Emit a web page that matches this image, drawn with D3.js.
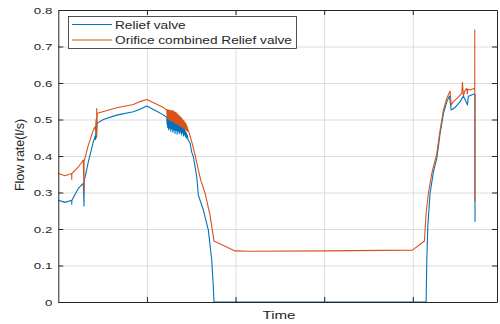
<!DOCTYPE html>
<html>
<head>
<meta charset="utf-8">
<script src="https://cdn.jsdelivr.net/npm/d3@7"></script>
<style>
  body { margin: 0; background: #fff; }
  text { font-family: "Liberation Sans", Arial, sans-serif; fill: #262626; }
</style>
</head>
<body>
<svg id="chart" width="500" height="324"></svg>
<script>
// values; time is in arbitrary units (grid line every 100)
var yTicks = [0, 0.1, 0.2, 0.3, 0.4, 0.5, 0.6, 0.7, 0.8];
var xTicks = [100, 200, 300, 400];
var seriesNames = ["Relief valve", "Orifice combined Relief valve"];

// rise to the first plateau
var reliefHeadTime = [0, 7.6, 15.1, 15.2, 15.3, 22.6, 28.2, 29, 29.1, 33.9, 39.5, 41.4, 42, 42.6, 43.2, 43.6, 44, 50.8, 65.9, 84.7, 92.2, 99.8, 110, 119];
var reliefHeadFlow = [0.279, 0.273, 0.279, 0.268, 0.279, 0.311, 0.325, 0.263, 0.33, 0.384, 0.439, 0.453, 0.445, 0.48, 0.455, 0.478, 0.49, 0.5, 0.512, 0.521, 0.528, 0.537, 0.524, 0.512];
var orificeHeadTime = [0, 7.6, 15.1, 15.2, 15.3, 22.6, 28.2, 29, 29.1, 33.9, 39.5, 41.4, 42, 42.6, 43.2, 43.3, 43.6, 44, 47.1, 65.9, 84.7, 92.2, 99.8, 110, 119];
var orificeHeadFlow = [0.352, 0.346, 0.352, 0.336, 0.352, 0.37, 0.389, 0.30, 0.385, 0.43, 0.471, 0.48, 0.47, 0.50, 0.45, 0.53, 0.49, 0.517, 0.519, 0.532, 0.541, 0.549, 0.555, 0.543, 0.532];

// noisy stretch after the peak
var noiseTime = [122.4, 122.7, 123, 123.3, 123.6, 123.9, 124.2, 124.5, 124.8, 125.1,
  125.4, 125.7, 126, 126.3, 126.6, 126.9, 127.2, 127.5, 127.8, 128.1,
  128.4, 128.7, 129, 129.3, 129.6, 129.9, 130.2, 130.5, 130.8, 131.1,
  131.4, 131.7, 132, 132.3, 132.6, 132.9, 133.2, 133.5, 133.8, 134.1,
  134.4, 134.7, 135, 135.3, 135.6, 135.9, 136.2, 136.5, 136.8, 137.1,
  137.4, 137.7, 138, 138.3, 138.6, 138.9, 139.2, 139.5, 139.8, 140.1,
  140.4, 140.7, 141, 141.3, 141.6, 141.9, 142.2, 142.5, 142.8, 143.1,
  143.4, 143.7, 144, 144.3, 144.6, 144.9, 145.2, 145.5, 145.8, 146.1, 146.4];
var reliefNoise = [0.506, 0.488, 0.503, 0.479, 0.501, 0.490, 0.504, 0.472, 0.499, 0.485,
  0.502, 0.476, 0.498, 0.487, 0.500, 0.468, 0.497, 0.482, 0.499, 0.474,
  0.496, 0.485, 0.498, 0.465, 0.495, 0.479, 0.497, 0.471, 0.493, 0.483,
  0.495, 0.462, 0.492, 0.478, 0.494, 0.470, 0.490, 0.480, 0.492, 0.460,
  0.489, 0.475, 0.491, 0.468, 0.487, 0.477, 0.489, 0.462, 0.485, 0.472,
  0.487, 0.466, 0.483, 0.473, 0.485, 0.458, 0.480, 0.469, 0.482, 0.463,
  0.477, 0.467, 0.479, 0.455, 0.474, 0.464, 0.475, 0.458, 0.470, 0.460,
  0.468, 0.452, 0.465, 0.456, 0.462, 0.449, 0.459, 0.452, 0.455, 0.447, 0.445];
var orificeNoise = [0.526, 0.510, 0.523, 0.503, 0.527, 0.508, 0.521, 0.500, 0.525, 0.506,
  0.519, 0.498, 0.526, 0.504, 0.522, 0.497, 0.524, 0.507, 0.518, 0.495,
  0.525, 0.502, 0.520, 0.493, 0.523, 0.500, 0.517, 0.496, 0.522, 0.491,
  0.519, 0.499, 0.515, 0.489, 0.520, 0.496, 0.513, 0.492, 0.517, 0.487,
  0.514, 0.494, 0.510, 0.486, 0.512, 0.490, 0.507, 0.484, 0.510, 0.488,
  0.505, 0.482, 0.507, 0.485, 0.502, 0.480, 0.504, 0.483, 0.499, 0.478,
  0.500, 0.480, 0.496, 0.476, 0.497, 0.478, 0.492, 0.474, 0.493, 0.475,
  0.488, 0.472, 0.489, 0.471, 0.484, 0.470, 0.482, 0.469, 0.478, 0.468, 0.470];

// fall, idle stretch and second rise
var reliefTailTime = [148.7, 150.6, 152.4, 156.2, 158, 163.7, 169.3, 173.1, 174.9, 175.7, 415, 415.8, 416.9, 419.5, 423.3, 427.1, 430.8, 434.6, 438.4, 441.3,
  443.3, 447.8, 453.4, 457.1, 459, 461.6, 462.7, 469.1, 470.2, 470.2];
var reliefTailFlow = [0.435, 0.41, 0.398, 0.343, 0.293, 0.252, 0.197, 0.115, 0.042, 0, 0, 0.115, 0.206, 0.298, 0.357, 0.394, 0.462, 0.517, 0.549, 0.564,
  0.526, 0.533, 0.549, 0.564, 0.555, 0.54, 0.564, 0.570, 0.570, 0.22];
var orificeTailTime = [146.7, 150.6, 154.3, 158, 160.7, 165.6, 171.2, 175.7, 199.4, 216.4, 300, 399.6, 413.1, 415, 417.6, 421.4, 423.3, 425.2, 427.1,
  430.8, 434.6, 438.4, 442.1, 443.3, 445.9, 451.5, 455.3, 456, 457.1, 459, 461, 461.5, 462, 464.6, 469.1, 469.9, 469.9, 470];
var orificeTailFlow = [0.471, 0.439, 0.403, 0.362, 0.334, 0.298, 0.238, 0.167, 0.14, 0.139, 0.140, 0.142, 0.167, 0.243, 0.298, 0.352, 0.371, 0.389, 0.407,
  0.471, 0.526, 0.558, 0.578, 0.54, 0.549, 0.562, 0.572, 0.602, 0.565, 0.58, 0.585, 0.57, 0.583, 0.581, 0.585, 0.585, 0.745, 0.275];

var colors = ["#0072BD", "#D95319"];
var ink = "#262626";

// plot box (note: "top" is taken by window.top, so use other names)
var x0 = 58.3, x1 = 497, y0 = 10, y1 = 302;

var svg = d3.select("#chart");

var x = d3.scaleLinear().domain([0, 495]).range([x0, x1]);
var y = d3.scaleLinear().domain([0, 0.8]).range([y1, y0]);

// grid
svg.append("g")
  .attr("transform", "translate(0," + y1 + ")")
  .call(d3.axisBottom(x).tickValues(xTicks).tickSize(-(y1 - y0)).tickFormat(""))
  .call(function(g) { g.select(".domain").remove(); })
  .selectAll("line").attr("stroke", "#dcdcdc").attr("stroke-width", 1);

svg.append("g")
  .attr("transform", "translate(" + x0 + ",0)")
  .call(d3.axisLeft(y).tickValues(yTicks).tickSize(-(x1 - x0)).tickFormat(""))
  .call(function(g) { g.select(".domain").remove(); })
  .selectAll("line").attr("stroke", "#dcdcdc").attr("stroke-width", 1);

// lines
var line = d3.line()
  .x(function(d) { return x(d[0]); })
  .y(function(d) { return y(d[1]); });

var series = [
  d3.zip(reliefHeadTime.concat(noiseTime, reliefTailTime), reliefHeadFlow.concat(reliefNoise, reliefTailFlow)),
  d3.zip(orificeHeadTime.concat(noiseTime, orificeTailTime), orificeHeadFlow.concat(orificeNoise, orificeTailFlow))
];

svg.append("g").selectAll("path")
  .data(series)
  .enter().append("path")
    .attr("d", line)
    .attr("fill", "none")
    .attr("stroke", function(d, i) { return colors[i]; })
    .attr("stroke-width", 1.1)
    .attr("stroke-linejoin", "round");

// axes with inward ticks on all four sides
function styleAxis(g) {
  g.selectAll("path, line").attr("stroke", ink);
  g.select(".domain").attr("stroke-width", 1);
}

svg.append("g")
  .attr("transform", "translate(0," + y1 + ")")
  .call(d3.axisBottom(x).tickValues(xTicks).tickSizeInner(-5).tickSizeOuter(0).tickFormat(""))
  .call(styleAxis);

svg.append("g")
  .attr("transform", "translate(0," + y0 + ")")
  .call(d3.axisTop(x).tickValues(xTicks).tickSizeInner(-5).tickSizeOuter(0).tickFormat(""))
  .call(styleAxis);

svg.append("g")
  .attr("transform", "translate(" + x1 + ",0)")
  .call(d3.axisRight(y).tickValues(yTicks).tickSizeInner(-5).tickSizeOuter(0).tickFormat(""))
  .call(styleAxis);

var yAxis = svg.append("g")
  .attr("transform", "translate(" + x0 + ",0)")
  .call(d3.axisLeft(y).tickValues(yTicks).tickSizeInner(-5).tickSizeOuter(0)
    .tickFormat(function(d) { return d === 0 ? "0" : d.toFixed(1); }))
  .call(styleAxis);

// MATLAB export looks horizontally stretched, so stretch the labels too
yAxis.selectAll("text")
  .attr("x", -6 / 1.4)
  .attr("dy", "0.36em")
  .attr("transform", "scale(1.4,1)")
  .style("font-size", "9.5px")
  .attr("fill", ink);

// axis titles
svg.append("text")
  .attr("transform", "translate(279,319) scale(1.35,1)")
  .attr("text-anchor", "middle")
  .style("font-size", "11.2px")
  .text("Time");

svg.append("text")
  .attr("transform", "translate(23.5,155) rotate(-90)")
  .attr("text-anchor", "middle")
  .style("font-size", "12.5px")
  .text("Flow rate(l/s)");

// legend
var legend = svg.append("g");
legend.append("rect")
  .attr("x", 68.5).attr("y", 16.5)
  .attr("width", 228).attr("height", 32)
  .attr("fill", "#fff")
  .attr("stroke", ink)
  .attr("stroke-width", 0.8);

var item = legend.selectAll("g.item")
  .data(seriesNames)
  .enter().append("g")
    .attr("class", "item")
    .attr("transform", function(d, i) { return "translate(0," + (24.5 + i * 15.5) + ")"; });

item.append("line")
  .attr("x1", 72).attr("x2", 112)
  .attr("stroke", function(d, i) { return colors[i]; })
  .attr("stroke-width", 1.1);

item.append("text")
  .attr("transform", "translate(115,4) scale(1.2,1)")
  .style("font-size", "11.4px")
  .text(function(d) { return d; });
</script>
</body>
</html>
